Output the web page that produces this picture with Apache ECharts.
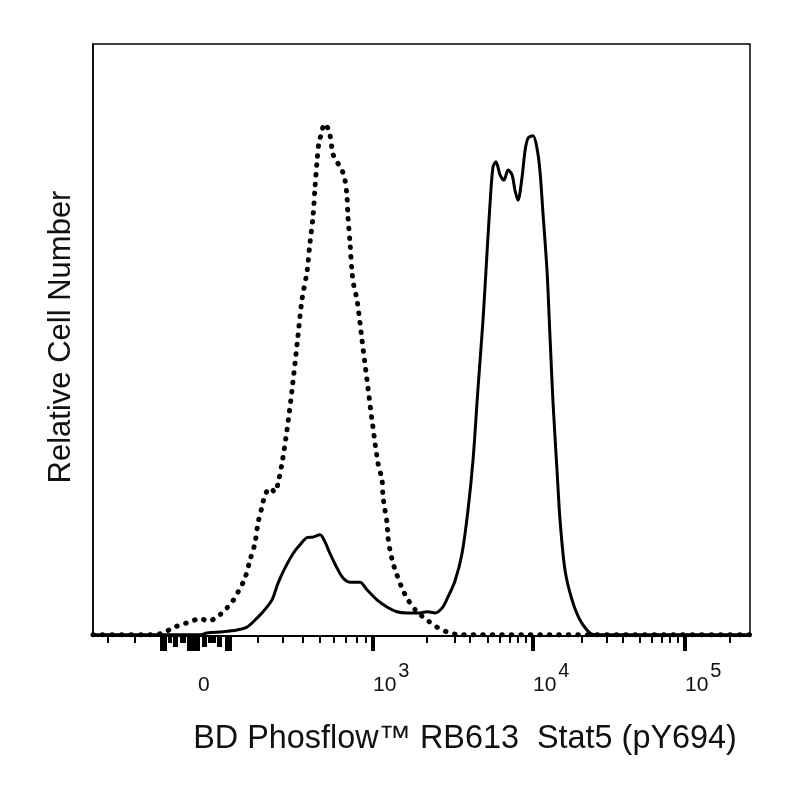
<!DOCTYPE html>
<html>
<head>
<meta charset="utf-8">
<script src="https://cdn.jsdelivr.net/npm/echarts@6/dist/echarts.min.js"></script>
<style>
  html, body { margin: 0; padding: 0; background: #fff; }
  #chart { width: 800px; height: 800px; }
</style>
</head>
<body>
<div id="chart"></div>
<script>
// x values are display channels (0-1024, biexponential scale), y values are % of frame height
var dottedX = [0, 88.8, 109.1, 124.7, 140.3, 154.3, 166.8, 179.2, 193.3, 205.7, 216.6, 226.0, 236.9,
    244.7, 252.5, 257.2, 263.4, 268.1, 275.9, 283.7, 288.3, 294.6, 302.4, 310.2, 318.0, 325.7, 333.5,
    338.2, 342.9, 346.0, 349.1, 352.2, 356.9, 360.0, 364.7, 369.4, 374.1, 380.3, 388.1, 392.8, 395.9,
    397.4, 400.6, 403.7, 406.8, 411.5, 419.3, 427.1, 434.8, 444.2, 450.4, 452.0, 455.1, 458.2, 459.8,
    462.9, 467.6, 473.8, 481.6, 491.0, 505.0, 520.6, 536.2, 551.7, 572.0, 1024];
var dottedY = [0.2, 0.2, 0.5, 1.4, 2.0, 2.5, 3.0, 2.5, 3.2, 4.4, 5.7, 7.4, 9.8,
    12.8, 15.7, 19.1, 21.8, 23.8, 25.0, 24.3, 25.8, 29.2, 34.8, 41.6, 49.2, 56.8, 61.5,
    66.4, 70.8, 75.7, 80.1, 83.4, 85.1, 86.5, 86.1, 84.6, 81.4, 80.1, 78.7, 77.0, 74.2,
    70.8, 66.4, 61.5, 59.0, 56.8, 50.0, 43.2, 36.5, 29.2, 26.4, 23.5, 21.3, 19.1, 16.7,
    14.5, 12.3, 10.3, 8.1, 6.1, 4.1, 2.7, 1.5, 0.7, 0.2, 0.2];

var solidX = [0, 166.8, 177.7, 202.6, 224.4, 240.0, 252.5, 265.0, 279.0, 288.3, 299.3, 311.7, 322.6,
    333.5, 342.9, 353.8, 361.6, 369.4, 380.3, 389.7, 400.6, 416.1, 427.1, 442.6, 458.2, 473.8, 489.4,
    509.7, 520.6, 533.0, 543.9, 553.3, 564.2, 575.1, 584.5, 592.3, 600.1, 607.9, 614.1, 618.8, 623.4,
    628.1, 634.4, 640.6, 646.8, 653.1, 657.7, 662.4, 668.6, 673.3, 678.0, 685.8, 692.0, 696.7, 701.4,
    707.6, 712.3, 717.0, 723.2, 727.9, 735.7, 746.6, 759.1, 774.6, 785.5, 1024];
var solidY = [0.2, 0.2, 0.5, 0.7, 1.0, 1.5, 2.7, 4.1, 6.1, 8.9, 11.5, 13.9, 15.4,
    16.6, 16.7, 17.1, 15.9, 13.9, 11.5, 9.8, 9.1, 9.1, 7.8, 6.1, 4.9, 4.1, 3.9,
    3.9, 4.1, 3.9, 4.7, 6.6, 9.3, 13.9, 21.3, 29.7, 41.9, 53.4, 64.7, 73.0, 79.2,
    80.1, 77.9, 77.0, 78.7, 77.9, 75.3, 73.6, 77.4, 81.9, 84.1, 84.5, 82.4, 78.5, 71.3,
    61.8, 50.5, 39.4, 28.0, 19.6, 11.1, 6.1, 2.7, 0.5, 0.2, 0.2];

// tick positions on the display scale
var majorTicks = [436.4, 685.8, 922.7];
var labelTicks = [163.7, 436.4, 685.8, 922.7];
var labelExponents = ['', '3', '4', '5'];
var longTicks = [106.0, 109.1, 112.2, 148.1, 151.2, 154.3, 157.4, 160.5, 163.7, 207.3, 210.4, 213.5];
var mediumTicks = [126.2, 129.4, 171.4, 174.6, 194.8, 197.9];
var shortTicks = [23.4, 65.5, 118.5, 121.6, 137.2, 140.3, 143.4, 180.8, 183.9, 187.0, 190.1,
    257.2, 296.1, 327.3, 353.8, 375.6, 394.3, 411.5, 425.5,
    520.6, 564.2, 587.6, 615.6, 634.4, 649.9, 662.4, 674.9,
    762.2, 801.1, 826.1, 852.6, 871.3, 886.8, 899.3, 911.8, 992.8];

var FONT = '"Liberation Sans", Arial, Helvetica, sans-serif';

function zip(xs, ys) {
    var out = [];
    for (var i = 0; i < xs.length; i++) {
        out.push([xs[i], ys[i]]);
    }
    return out;
}

function tickAxis(values, len, width, withLabels) {
    var axis = {
        type: 'value',
        position: 'bottom',
        min: 0,
        max: 1024,
        axisLine: { show: true, lineStyle: { color: '#000', width: 1.5 } },
        splitLine: { show: false },
        axisTick: {
            show: true,
            customValues: values,
            length: len,
            lineStyle: { color: '#000', width: width }
        },
        axisLabel: { show: false }
    };
    if (withLabels) {
        axis.axisLabel = {
            show: true,
            customValues: labelTicks,
            align: 'left',
            margin: 25,
            color: '#111',
            fontFamily: FONT,
            formatter: function (value) {
                var idx = labelTicks.indexOf(value);
                var e = labelExponents[idx];
                if (!e) {
                    return '{b|0}';
                }
                return '{b|10}{s|' + e + '}';
            },
            rich: {
                b: { fontSize: 21, lineHeight: 35, verticalAlign: 'bottom', fontFamily: FONT, color: '#111' },
                s: { fontSize: 20, lineHeight: 35, verticalAlign: 'top', padding: [0, 0, 0, 2], fontFamily: FONT, color: '#111' }
            }
        };
    }
    return axis;
}

var chart = echarts.init(document.getElementById('chart'), null, { renderer: 'canvas' });

var option = {
    backgroundColor: '#fff',
    animation: false,
    grid: {
        left: 93,
        right: 50,
        top: 44,
        bottom: 164,
        show: true,
        borderColor: '#000',
        borderWidth: 1.5,
        backgroundColor: 'transparent'
    },
    xAxis: [
        tickAxis(majorTicks, 15, 4, true),
        tickAxis(longTicks, 15, 3, false),
        tickAxis(mediumTicks, 11, 3, false),
        tickAxis(shortTicks, 7, 2, false)
    ],
    yAxis: {
        type: 'value',
        min: 0,
        max: 100,
        axisLine: { show: true, lineStyle: { color: '#000', width: 1.5 } },
        axisTick: { show: false },
        axisLabel: { show: false },
        splitLine: { show: false }
    },
    graphic: [
        {
            type: 'text',
            x: 465,
            y: 739,
            style: {
                text: 'BD Phosflow\u2122 RB613  Stat5 (pY694)',
                fontSize: 32.4,
                fontFamily: FONT,
                fill: '#111',
                textAlign: 'center',
                textVerticalAlign: 'middle'
            }
        },
        {
            type: 'text',
            x: 61,
            y: 337,
            rotation: Math.PI / 2,
            style: {
                text: 'Relative Cell Number',
                fontSize: 31,
                fontFamily: FONT,
                fill: '#111',
                textAlign: 'center',
                textVerticalAlign: 'middle'
            }
        }
    ],
    series: [
        {
            name: 'Unstimulated',
            type: 'line',
            xAxisIndex: 0,
            data: zip(dottedX, dottedY),
            showSymbol: false,
            smooth: 0.3,
            lineStyle: { color: '#000', width: 5, type: [0.5, 9], cap: 'round' }
        },
        {
            name: 'Stimulated',
            type: 'line',
            xAxisIndex: 0,
            data: zip(solidX, solidY),
            showSymbol: false,
            smooth: 0.3,
            lineStyle: { color: '#000', width: 3 }
        }
    ]
};

chart.setOption(option);
</script>
</body>
</html>
